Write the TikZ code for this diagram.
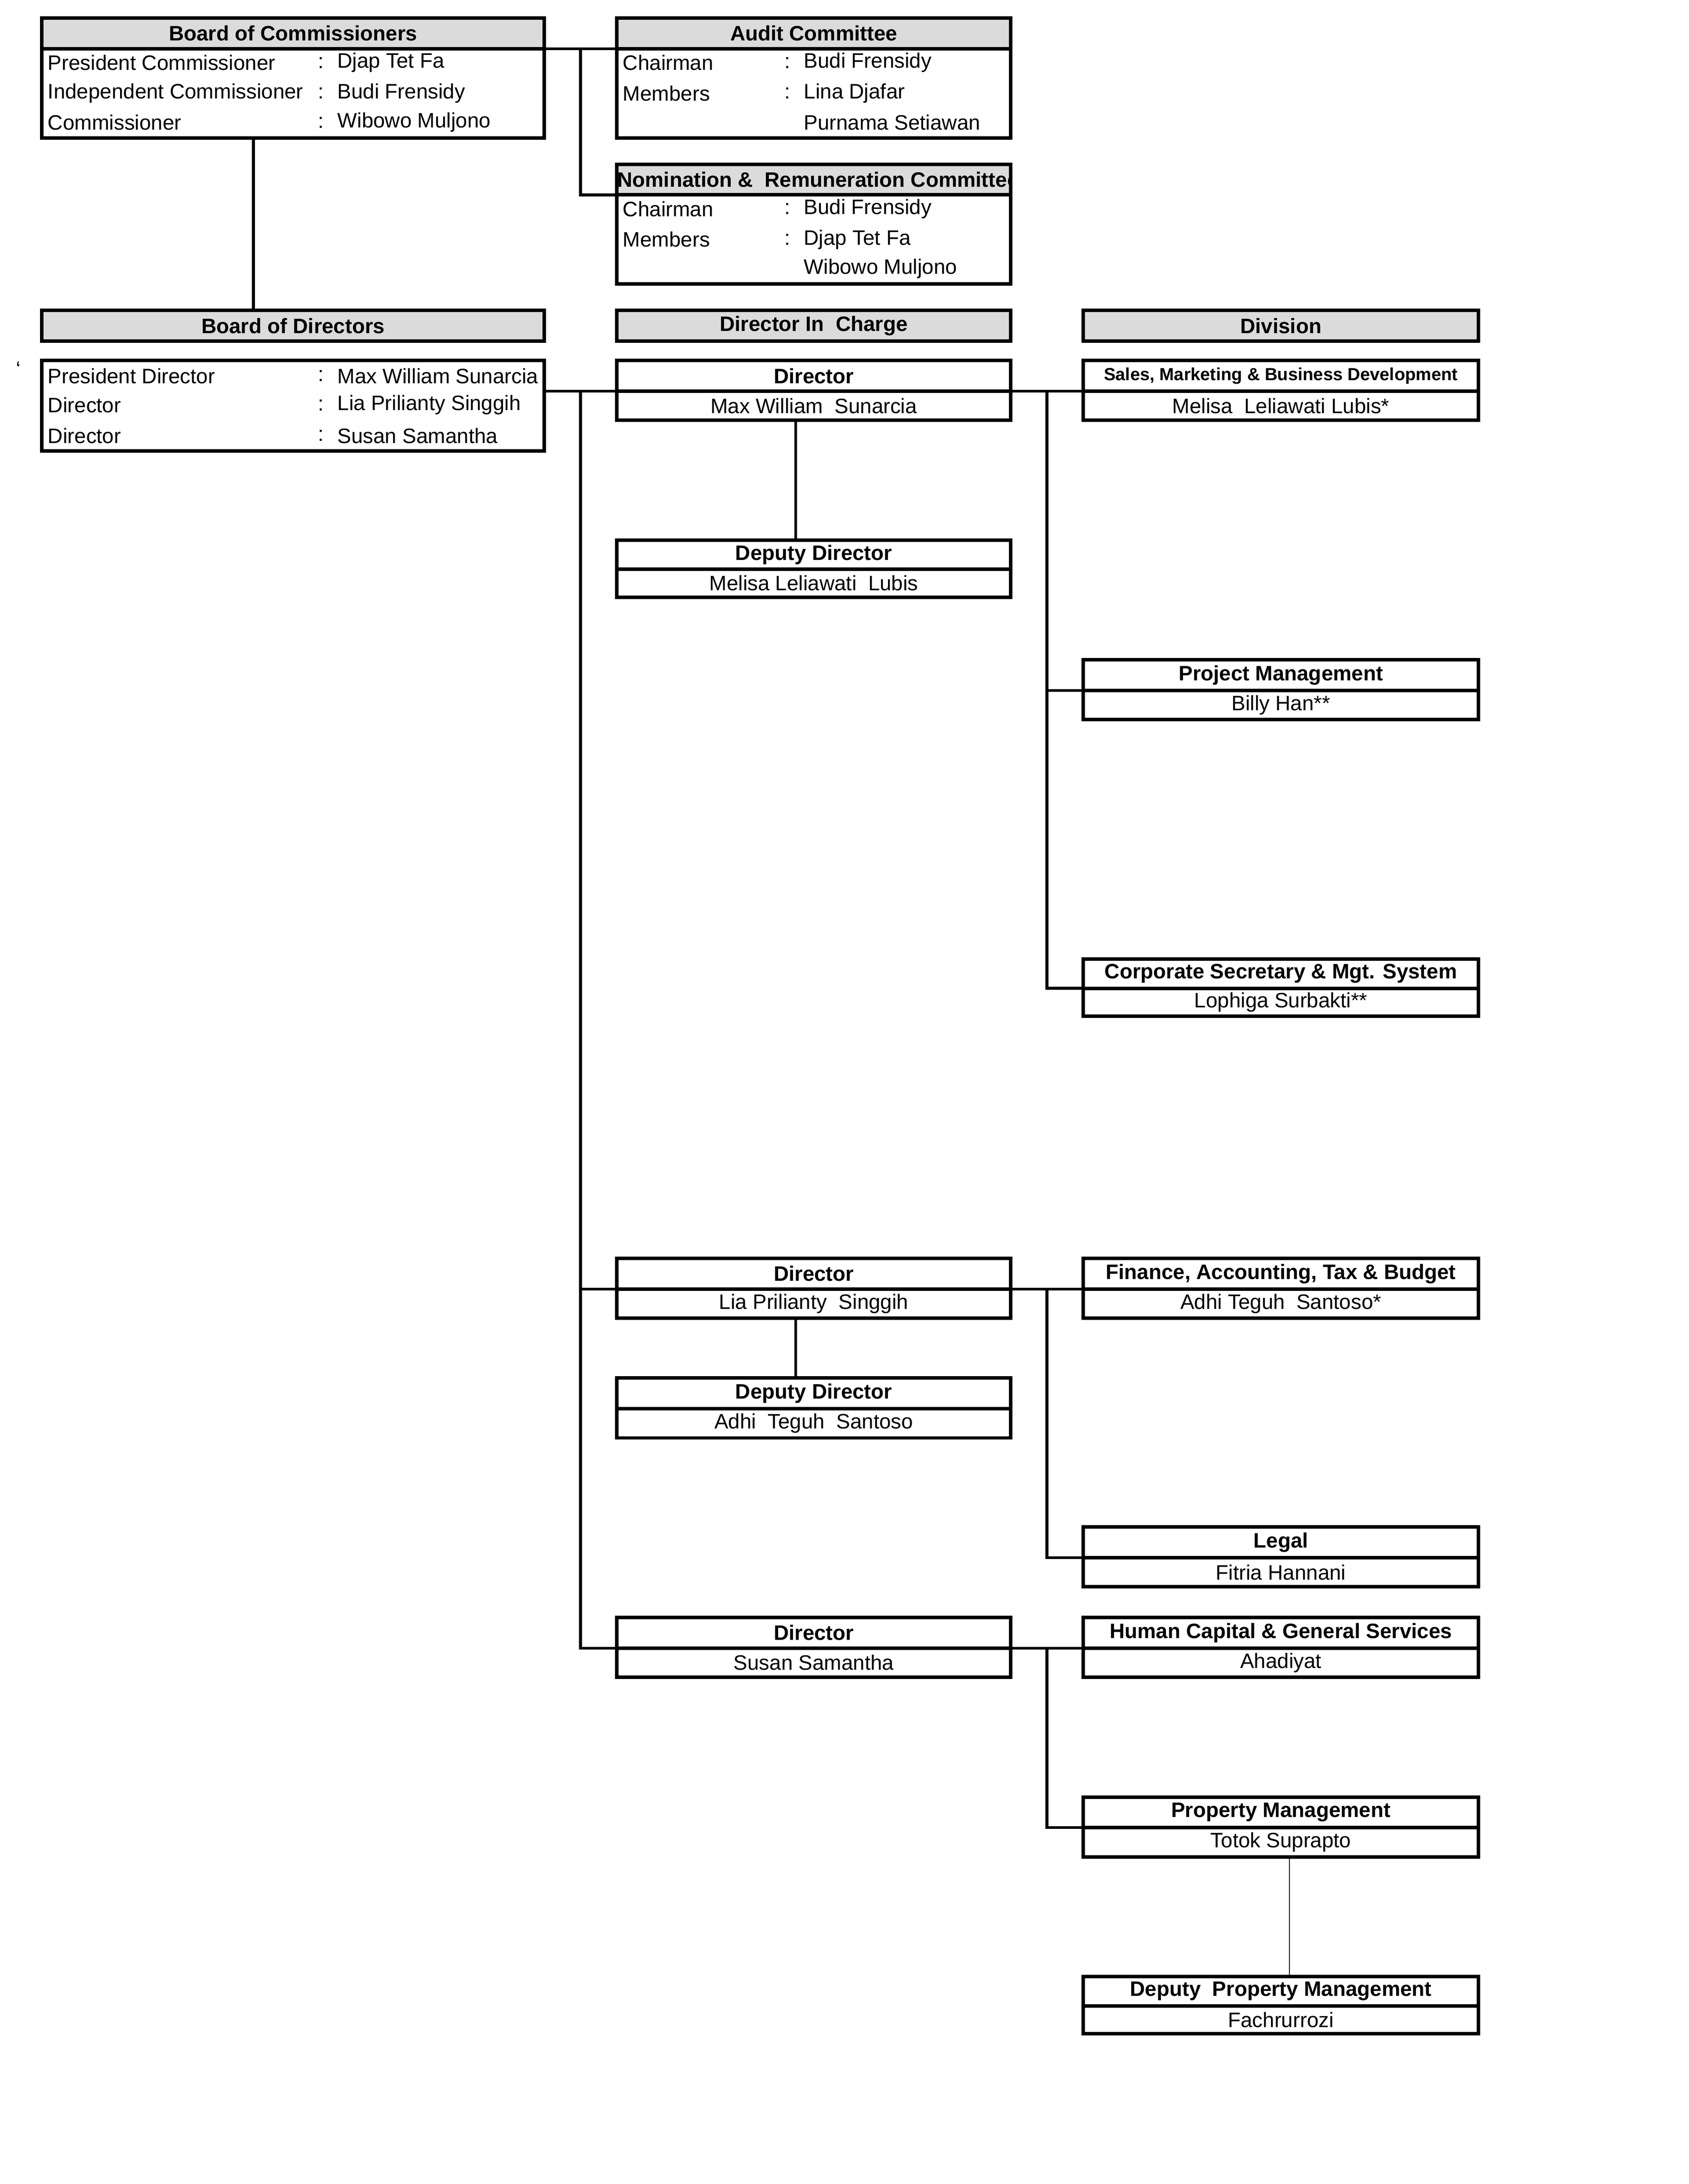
\documentclass[tikz,border=0pt]{standalone}
\usepackage{fontspec}
\setmainfont{Liberation Sans}
\begin{document}
\begin{tikzpicture}[x=0.5pt,y=-0.5pt,
  cellb/.style={draw,line width=1.25pt,inner sep=0pt,outer sep=0pt,font=\fontsize{7.5}{9}\selectfont},
  hdr/.style={cellb,fill=black!14,font=\fontsize{7.5}{9}\selectfont\bfseries},
  whd/.style={cellb,font=\fontsize{7.5}{9}\selectfont\bfseries},
  shd/.style={cellb,font=\fontsize{6.3}{8}\selectfont\bfseries},
  txt/.style={anchor=west,inner sep=0pt,font=\fontsize{7.5}{9}\selectfont},
  con/.style={line width=1pt},
  thin/.style={line width=0.3pt}]
\useasboundingbox (0,0) rectangle (1213,1569);
\newcommand\cell[7]{\node[#6,anchor=north west,minimum width={(#3-#2)*0.5pt},minimum height={(#5-#4)*0.5pt}] (#1) at (#2,#4) {#7};}
% Board of Commissioners
\cell{bochd}{30}{391}{13}{35}{hdr}{Board of Commissioners}
\cell{bocbd}{30}{391}{35}{99}{cellb}{}
\node[txt] (b1) at (34,45) {President Commissioner};
\node[txt] (b2) at (34,67) {Independent Commissioner};
\node[txt] (b3) at (34,88) {Commissioner};
\node[txt] (b1c) at (228,45) {:}; \node[txt] (b2c) at (228,67) {:}; \node[txt] (b3c) at (228,88) {:};
\node[txt] (b1v) at (242,45) {Djap Tet Fa};
\node[txt] (b2v) at (242,67) {Budi Frensidy};
\node[txt] (b3v) at (242,88) {Wibowo Muljono};
% Audit
\cell{audhd}{443}{726}{13}{35}{hdr}{Audit Committee}
\cell{audbd}{443}{726}{35}{99}{cellb}{}
\node[txt] (a1) at (447,45) {Chairman};
\node[txt] (a2) at (447,67) {Members};
\node[txt] (a1c) at (563,45) {:}; \node[txt] (a2c) at (563,67) {:};
\node[txt] (a1v) at (577,45) {Budi Frensidy};
\node[txt] (a2v) at (577,67) {Lina Djafar};
\node[txt] (a3v) at (577,88) {Purnama Setiawan};
% NRC
\cell{nrchd}{443}{726}{118}{140}{hdr}{}
\begin{scope}
\clip (443,118) rectangle (726,140);
\node[txt,font=\fontsize{7.5}{9}\selectfont\bfseries] (nrct) at (443,129) {Nomination \&\ \ Remuneration Committee};
\end{scope}
\draw[line width=1.25pt] (443,118) rectangle (726,140);
\cell{nrcbd}{443}{726}{140}{204}{cellb}{}
\node[txt] (n1) at (447,150) {Chairman};
\node[txt] (n2) at (447,172) {Members};
\node[txt] (n1c) at (563,150) {:}; \node[txt] (n2c) at (563,172) {:};
\node[txt] (n1v) at (577,150) {Budi Frensidy};
\node[txt] (n2v) at (577,172) {Djap Tet Fa};
\node[txt] (n3v) at (577,193) {Wibowo Muljono};
% column headers
\cell{bodhd}{30}{391}{223}{245}{hdr}{Board of Directors}
\cell{dichd}{443}{726}{223}{245}{hdr}{Director In\ \ Charge}
\cell{divhd}{778}{1062}{223}{245}{hdr}{Division}
\node[txt] (tick) at (11,265) {`};
% BoD body
\cell{bodbd}{30}{391}{259}{324}{cellb}{}
\node[txt] (d1) at (34,270) {President Director};
\node[txt] (d2) at (34,291) {Director};
\node[txt] (d3) at (34,313) {Director};
\node[txt] (d1c) at (228,270) {:}; \node[txt] (d2c) at (228,291) {:}; \node[txt] (d3c) at (228,313) {:};
\node[txt] (d1v) at (242,270) {Max William Sunarcia};
\node[txt] (d2v) at (242,291) {Lia Prilianty Singgih};
\node[txt] (d3v) at (242,313) {Susan Samantha};
% generic two-row boxes
\newcommand\tbox[8]{\cell{#1h}{#2}{#3}{#4}{#5}{#8}{#7}\cell{#1b}{#2}{#3}{#5}{#5+(#5-#4)-1}{cellb}{#6}}
\tbox{dir1}{443}{726}{259}{281}{Max William\ \ Sunarcia}{Director}{whd}
\tbox{dep1}{443}{726}{388}{409}{Melisa Leliawati\ \ Lubis}{Deputy Director}{whd}
\tbox{dir2}{443}{726}{904}{926}{Lia Prilianty\ \ Singgih}{Director}{whd}
\tbox{dep2}{443}{726}{990}{1012}{Adhi\ \ Teguh\ \ Santoso}{Deputy Director}{whd}
\tbox{dir3}{443}{726}{1162}{1184}{Susan Samantha}{Director}{whd}
\tbox{sal}{778}{1062}{259}{281}{Melisa\ \ Leliawati Lubis*}{Sales, Marketing \& Business Development}{shd}
\tbox{prj}{778}{1062}{474}{496}{Billy Han**}{Project Management}{whd}
\tbox{cor}{778}{1062}{689}{710}{Lophiga Surbakti**}{Corporate Secretary \& Mgt. System}{whd}
\tbox{fin}{778}{1062}{904}{926}{Adhi Teguh\ \ Santoso*}{Finance, Accounting, Tax \& Budget}{whd}
\tbox{leg}{778}{1062}{1097}{1119}{Fitria Hannani}{Legal}{whd}
\tbox{hc}{778}{1062}{1162}{1184}{Ahadiyat}{Human Capital \& General Services}{whd}
\tbox{prop}{778}{1062}{1291}{1313}{Totok Suprapto}{Property Management}{whd}
\tbox{dprop}{778}{1062}{1420}{1441}{Fachrurrozi}{Deputy\ \ Property Management}{whd}
% connectors
\coordinate (jc) at (417,35);
\draw[con] (bochd.south east) -- (audhd.south west);
\draw[con] (jc) |- (nrchd.south west);
\draw[con] (bocbd.south) ++(-28.5,0) coordinate (bocdn) -- (bocdn |- bodhd.north);
\coordinate (jd) at (417,281);
\coordinate (jv1) at (752,281);
\draw[con] (391,281) -- (dir1h.south west);
\draw[con] (dir1h.south east) -- (salh.south west);
\draw[con] (jd) |- (dir2h.south west);
\draw[con] (jd) |- (dir3h.south west);
\draw[con] (dir1b.south) ++(-13,0) coordinate (d1dn) -- (d1dn |- dep1h.north);
\draw[con] (jv1) |- (prjh.south west);
\draw[con] (jv1) |- (corh.south west);
\coordinate (jv2) at (752,926);
\draw[con] (dir2h.south east) -- (finh.south west);
\draw[con] (dir2b.south) ++(-13,0) coordinate (d2dn) -- (d2dn |- dep2h.north);
\draw[con] (jv2) |- (legh.south west);
\coordinate (jv3) at (752,1184);
\draw[con] (dir3h.south east) -- (hch.south west);
\draw[con] (jv3) |- (proph.south west);
\draw[thin] (propb.south) ++(6,0) coordinate (pdn) -- (pdn |- dproph.north);
\end{tikzpicture}
\end{document}
